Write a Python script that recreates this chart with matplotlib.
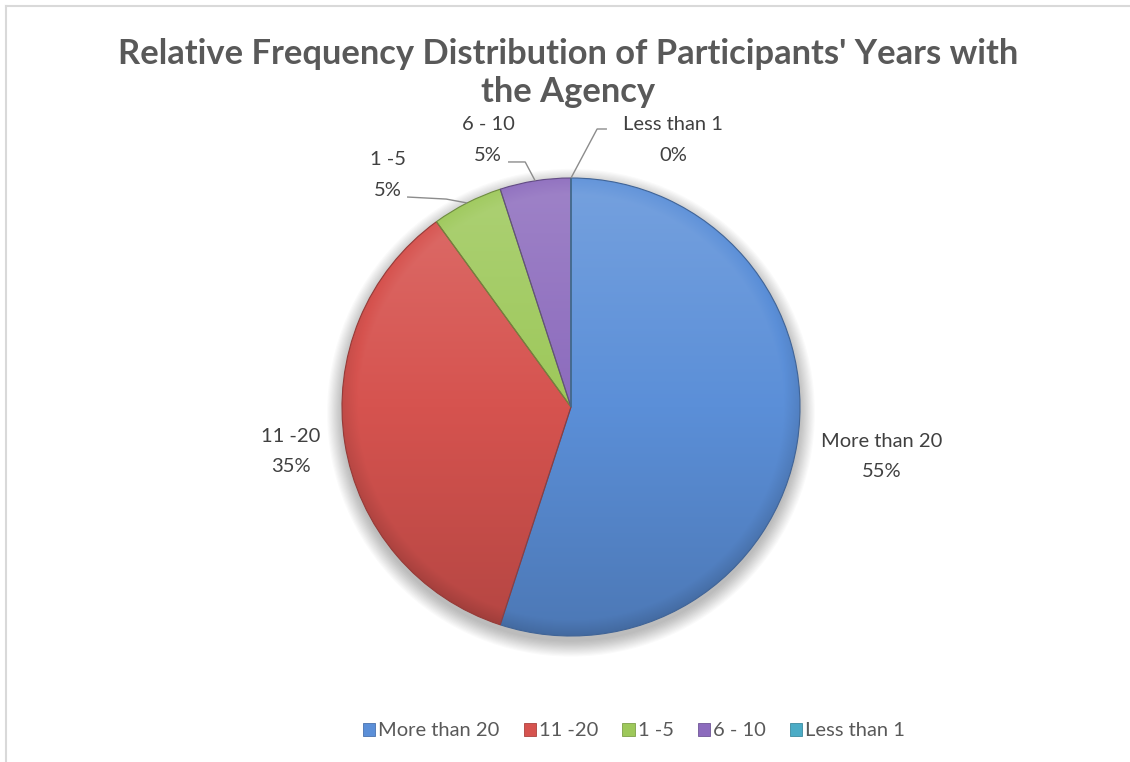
import numpy as np
import matplotlib
matplotlib.use("Agg")
import matplotlib.pyplot as plt
from matplotlib.patches import Patch, Circle
from matplotlib.colors import to_rgb
from matplotlib.lines import Line2D

# Data
categories = ["More than 20", "11 -20", "1 -5", "6 - 10", "Less than 1"]
percentages = [55, 35, 5, 5, 0]
colors = ["#5b8fd8", "#d6534f", "#9dc85a", "#8c6bbd", "#4bacc6"]
title = "Relative Frequency Distribution of Participants' Years with\nthe Agency"

FONT = "Lato"
TEXT_COLOR = "#404040"

W, H = 1130, 762
fig = plt.figure(figsize=(W / 100, H / 100), dpi=100)
ax = fig.add_axes([0, 0, 1, 1])

# pie centre / radius in pixels, used to set up a 1:1 data scale
cx, cy, R = 571, 407, 229


def shade(rgb, f):
    rgb = np.asarray(rgb)
    if f >= 0:
        return rgb + (1 - rgb) * f
    return rgb * (1 + f)


# soft shadow under the pie
for i in range(14):
    ax.add_patch(Circle((0.0, -0.025), 1.0 + 0.005 * i, facecolor="black",
                        edgecolor="none", alpha=0.018, zorder=0))

wedges, _ = ax.pie(percentages, colors=colors, startangle=90, counterclock=False,
                   radius=1.0,
                   wedgeprops=dict(linewidth=0.8, zorder=2))

# vertical light-to-dark gradient inside each wedge
n = 400
xs = np.linspace(-1, 1, n)
X, Y = np.meshgrid(xs, xs[::-1])
Rr = np.hypot(X, Y)
for w, c in zip(wedges, colors):
    base = np.array(to_rgb(c))
    f = 0.16 * Y - 0.10 * np.clip((Rr - 0.93) / 0.07, 0, 1)
    img = np.empty((n, n, 3))
    for k in range(3):
        img[..., k] = np.where(f >= 0, base[k] + (1 - base[k]) * f, base[k] * (1 + f))
    im = ax.imshow(np.clip(img, 0, 1), extent=(-1, 1, -1, 1), zorder=3,
                   interpolation="bilinear")
    im.set_clip_path(w)
    w.set_edgecolor(shade(base, -0.3))
    w.set_zorder(4)
    w.set_facecolor("none")

ax.set_xlim(-cx / R, (W - cx) / R)
ax.set_ylim(-(H - cy) / R, cy / R)
ax.set_aspect("equal")
ax.axis("off")

# angular midpoints of each slice
fracs = np.array(percentages, dtype=float) / sum(percentages)
ends = 90 - 360 * np.cumsum(fracs)
starts = ends + 360 * fracs
mids = np.deg2rad((starts + ends) / 2)

label_kw = dict(ha="center", va="center", fontsize=14.5, family=FONT,
                color=TEXT_COLOR, linespacing=1.95, zorder=6)

# large slices: labels outside the rim on the mid angle
for i, dist in ((0, 1.375), (1, 1.24)):
    ax.text(dist * np.cos(mids[i]), dist * np.sin(mids[i]),
            f"{categories[i]}\n{percentages[i]}%", **label_kw)

# small slices: labels with leader lines (label position, elbow, line end)
small_layout = {
    2: ((-0.80, 1.013), (-0.545, 0.908), (-0.716, 0.917)),
    3: ((-0.362, 1.166), (-0.20, 1.07), (-0.275, 1.07)),
    4: ((0.445, 1.166), (0.114, 1.214), (0.157, 1.214)),
}
for i, (pos, elbow, end) in small_layout.items():
    ax.text(pos[0], pos[1], f"{categories[i]}\n{percentages[i]}%", **label_kw)
    sx, sy = np.cos(mids[i]), np.sin(mids[i])
    ax.plot([sx, elbow[0], end[0]], [sy, elbow[1], end[1]],
            color="#8c8c8c", lw=1.0, zorder=5, solid_capstyle="butt")

# title
fig.text(568 / W, 1 - 73 / H, title, ha="center", va="center", fontsize=24.8,
         fontweight="bold", family=FONT, color="#595959", linespacing=1.26)

# legend
handles = [Patch(facecolor=c, edgecolor=shade(to_rgb(c), -0.2), linewidth=0.6)
           for c in colors]
leg = fig.legend(handles, categories, loc="center",
                 bbox_to_anchor=(634 / W, 1 - 731 / H), ncol=5, frameon=False,
                 prop=dict(family=FONT, size=14.5), handlelength=0.6,
                 handleheight=0.6, handletextpad=0.15, columnspacing=1.2)
for t in leg.get_texts():
    t.set_color("#595959")

# chart-area border (top and left edges)
fig.add_artist(Line2D([6 / W, 1], [1 - 6 / H, 1 - 6 / H], transform=fig.transFigure,
                      color="#d9d9d9", lw=1.5))
fig.add_artist(Line2D([6 / W, 6 / W], [0, 1 - 6 / H], transform=fig.transFigure,
                      color="#d9d9d9", lw=1.5))

fig.savefig("out.png", dpi=100, facecolor="white")
